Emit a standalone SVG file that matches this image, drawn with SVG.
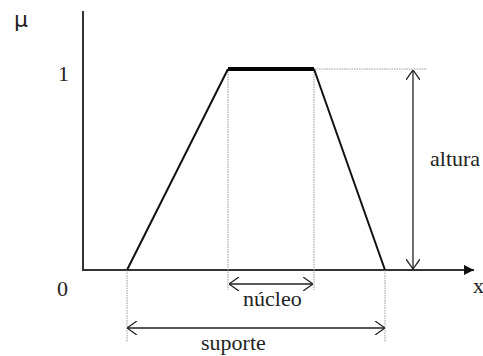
<svg xmlns="http://www.w3.org/2000/svg" width="483" height="356" viewBox="0 0 483 356">
<style>
.t{font-family:"Liberation Serif","DejaVu Serif",serif;font-size:22px;fill:#222}
.ax{stroke:#333;stroke-width:2;fill:none}
.dot{stroke:#999;stroke-width:1;stroke-dasharray:1.5 1;fill:none}
.dim{stroke:#222;stroke-width:1.3;fill:none}
.tr{stroke:#111;stroke-width:2;fill:none}
</style>
<defs>
<marker id="ah" viewBox="0 0 10 10" refX="10" refY="5" markerWidth="10" markerHeight="10" markerUnits="userSpaceOnUse" orient="auto-start-reverse"><path d="M0,0 L10,5 L0,10 z" fill="#111"/></marker>
<marker id="oa" viewBox="0 0 10 14" refX="10" refY="7" markerWidth="10" markerHeight="14" markerUnits="userSpaceOnUse" orient="auto-start-reverse"><path d="M0,0 L10,7 L0,14" fill="none" stroke="#222" stroke-width="1.3"/></marker>
</defs>
<g id="axes">
<path class="ax" d="M83,11 V270 H474" marker-end="url(#ah)"/>
</g>
<g id="connectors">
<path class="dot" d="M314,69 H427"/>
<path class="dot" d="M228,69 V290 M314,69 V290"/>
<path class="dot" d="M127,270 V342 M385,270 V342"/>
<path class="dim" d="M413,70 V269" marker-start="url(#oa)" marker-end="url(#oa)"/>
<path class="dim" d="M229,284 H313" marker-start="url(#oa)" marker-end="url(#oa)"/>
<path class="dim" d="M127,328 H385" marker-start="url(#oa)" marker-end="url(#oa)"/>
</g>
<g id="trapezoid">
<path class="tr" d="M127,270 L228,69 M314,69 L385,270"/>
<path d="M228,69 H314" stroke="#000" stroke-width="4"/>
</g>
<g id="labels">
<text x="14" y="27" font-family="DejaVu Sans, sans-serif" font-size="22" fill="#222">μ</text>
<text class="t" x="58" y="81" font-family="Liberation Serif, DejaVu Serif, serif">1</text>
<text class="t" x="57" y="296" font-family="Liberation Serif, DejaVu Serif, serif">0</text>
<text class="t" x="473" y="293" font-family="Liberation Serif, DejaVu Serif, serif">x</text>
<text class="t" x="430" y="166" font-family="Liberation Serif, DejaVu Serif, serif">altura</text>
<text class="t" x="243" y="306" font-family="Liberation Serif, DejaVu Serif, serif">núcleo</text>
<text class="t" x="201" y="350" font-family="Liberation Serif, DejaVu Serif, serif">suporte</text>
</g>
</svg>
